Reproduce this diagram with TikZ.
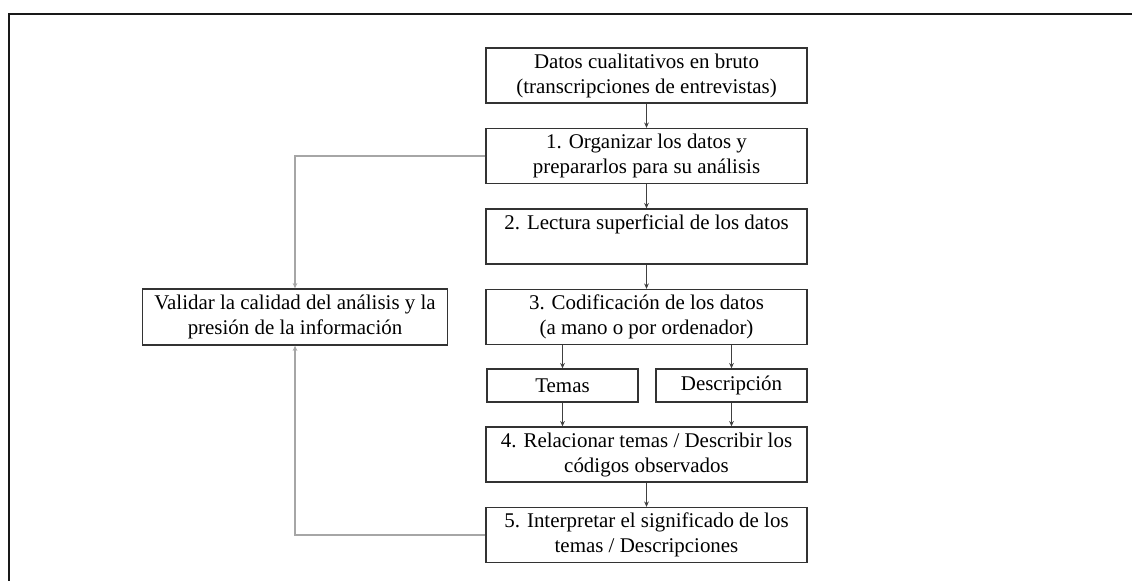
\documentclass[tikz,border=0pt]{standalone}
\usepackage{fontspec}
\setmainfont{Liberation Serif}
\usepackage{tikz}
\usetikzlibrary{positioning,arrows.meta,calc}

\begin{document}
\begin{tikzpicture}[
    x=0.75pt,
    y=-0.75pt,
    font=\fontsize{15.7}{18.75}\selectfont,
    box/.style={
        draw=black!80,
        line width=1pt,
        minimum width=240.75pt,
        minimum height=41.25pt,
        inner sep=0pt,
        align=center
    },
    small/.style={
        draw=black!80,
        line width=1pt,
        minimum width=113.25pt,
        minimum height=24.75pt,
        inner sep=0pt,
        align=center
    },
    arr/.style={-{Stealth[length=4pt,width=3.5pt]}, black!75, line width=0.7pt},
    back/.style={-{Stealth[length=4pt,width=3.5pt]}, black!35, line width=1.1pt}
]
\useasboundingbox (0,0) rectangle (1132,581);

% frame
\draw[black!90, line width=1.5pt] (9,581) -- (9,14) -- (1132,14);

% main column
\node[box] (raw) at (646.5,75.5)
{Datos cualitativos en bruto\\(transcripciones de entrevistas)};
\node[box] (org) at (646.5,156)
{1. Organizar los datos y\\prepararlos para su análisis};
\node[box] (read) at (646.5,236.5)
{2. Lectura superficial de los datos\\\phantom{(}};
\node[box] (code) at (646.5,317)
{3. Codificación de los datos\\(a mano o por ordenador)};

% second row
\node[small] (themes) at (562.5,385.5) {Temas};
\node[small] (desc) at (731.5,385.5) {Descripción};

\node[box] (rel) at (646.5,454.5)
{4. Relacionar temas / Describir los\\códigos observados};
\node[box] (interp) at (646.5,535)
{5. Interpretar el significado de los\\temas / Descripciones};

% side box
\node[box, minimum width=228.75pt, minimum height=42pt] (valid) at (295,317)
{Validar la calidad del análisis y la\\presión de la información};

\draw[arr] (raw) -- (org);
\draw[arr] (org) -- (read);
\draw[arr] (read) -- (code);
\draw[arr] (code.south -| themes) -- (themes);
\draw[arr] (code.south -| desc) -- (desc);
\draw[arr] (themes) -- (rel.north -| themes);
\draw[arr] (desc) -- (rel.north -| desc);
\draw[arr] (rel) -- (interp);

% feedback
\draw[back] (org.west) -| (valid.north);
\draw[back] (interp.west) -| (valid.south);

\end{tikzpicture}
\end{document}
